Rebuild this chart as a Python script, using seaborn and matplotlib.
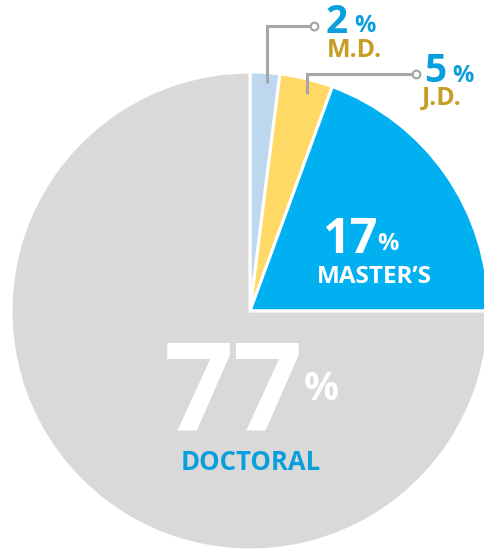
import matplotlib.pyplot as plt
import seaborn as sns

# 학위별 비율 (라벨 값과, 그림에서 읽은 조각 크기)
degrees = ["M.D.", "J.D.", "MASTER\u2019S", "DOCTORAL"]
label_pct = [2, 5, 17, 77]
wedge_size = [2.0, 3.6, 19.4, 75.0]
colors = ["#bdd7ee", "#ffd966", "#00b0f0", "#d9d9d9"]

W, H = 485, 551
sns.set_theme(style="white")
plt.rcParams['font.family'] = ['Open Sans', 'DejaVu Sans']

fig = plt.figure(figsize=(W / 100, H / 100), dpi=100)
ax = fig.add_axes([0, 0, 1, 1])


def py(y):  # 픽셀 y -> 데이터 y
    return H - y


cx, cy, r = 250, 311, 239
ax.pie(wedge_size, colors=colors, startangle=90, counterclock=False,
       center=(cx, py(cy)), radius=r,
       wedgeprops=dict(edgecolor="white", linewidth=2.2))

ax.set_xlim(0, W)
ax.set_ylim(0, H)
ax.set_aspect("equal")
ax.axis("off")

blue = "#0a9fdc"
gold = "#c69c22"
line_c = "#a6a6a6"

# 지시선 (M.D., J.D.)
for (x0, y0, y1, x1) in [(267, 83, 26, 314), (307, 94, 74, 416)]:
    ax.plot([x0, x0, x1], [py(y0), py(y1), py(y1)], color=line_c, lw=2.2,
            solid_capstyle="butt", solid_joinstyle="miter")
    ax.plot(x1, py(y1), "o", ms=5.5, mfc="white", mec=line_c, mew=1.6)

kw = dict(fontweight="bold", fontstyle="normal")

# M.D.
ax.text(326, py(33), str(label_pct[0]), color=blue, fontsize=28, **kw)
ax.text(354, py(32), "%", color=blue, fontsize=17, **kw)
ax.text(327, py(57), degrees[0], color=gold, fontsize=18, **kw)

# J.D.
ax.text(424, py(82), str(label_pct[1]), color=blue, fontsize=28, **kw)
ax.text(452, py(82), "%", color=blue, fontsize=17, **kw)
ax.text(422, py(105), degrees[1], color=gold, fontsize=18, **kw)

# MASTER'S
ax.text(322, py(253), str(label_pct[2]), color="white", fontsize=35, **kw)
ax.text(377, py(250), "%", color="white", fontsize=17, **kw)
ax.text(317, py(283), degrees[2], color="white", fontsize=17.5, **kw)

# DOCTORAL
ax.text(164, py(430), str(label_pct[3]), color="white", fontsize=88, **kw)
ax.text(304, py(400), "%", color="white", fontsize=28, **kw)
ax.text(181, py(470), degrees[3], color=blue, fontsize=18.5, **kw)

fig.savefig("out.png", dpi=100)
